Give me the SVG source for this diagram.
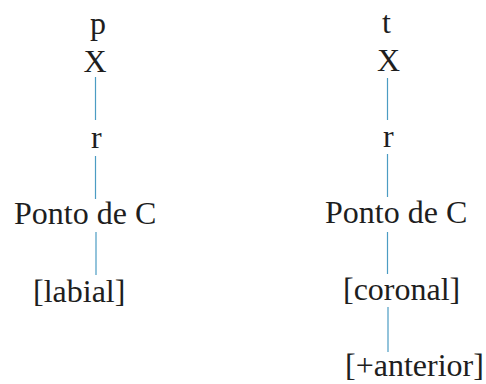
<svg xmlns="http://www.w3.org/2000/svg" width="486" height="384" viewBox="0 0 486 384">
<style>
.t{font-family:'Liberation Serif','Times New Roman',Times,serif;font-size:32px;fill:#1e1e1e}
.c line{stroke:#4b9cc3;stroke-width:1.2}
</style>
<rect width="486" height="384" fill="#fff"/>
<g class="c" id="connectors">
<line x1="95.5" y1="77" x2="95.5" y2="120"/>
<line x1="95.5" y1="156" x2="95.5" y2="199"/>
<line x1="96" y1="232" x2="96" y2="275"/>
<line x1="387.5" y1="78" x2="387.5" y2="120"/>
<line x1="387.5" y1="154" x2="387.5" y2="197"/>
<line x1="387.5" y1="232" x2="387.5" y2="274"/>
<line x1="388" y1="307" x2="388" y2="352"/>
</g>
<g class="t" font-family="Liberation Serif, serif">
<g id="p"><text x="90" y="34">p</text></g>
<g id="X1"><text x="83.5" y="72">X</text></g>
<g id="r1"><text x="91" y="148">r</text></g>
<g id="ponto1"><text x="14" y="224">Ponto de C</text></g>
<g id="labial"><text x="33" y="302">[labial]</text></g>
<g id="t"><text x="382" y="33">t</text></g>
<g id="X2"><text x="377" y="71">X</text></g>
<g id="r2"><text x="383" y="147">r</text></g>
<g id="ponto2"><text x="325" y="223">Ponto de C</text></g>
<g id="coronal"><text x="343" y="300">[coronal]</text></g>
<g id="anterior"><text x="345" y="376">[+anterior]</text></g>
</g>
</svg>
